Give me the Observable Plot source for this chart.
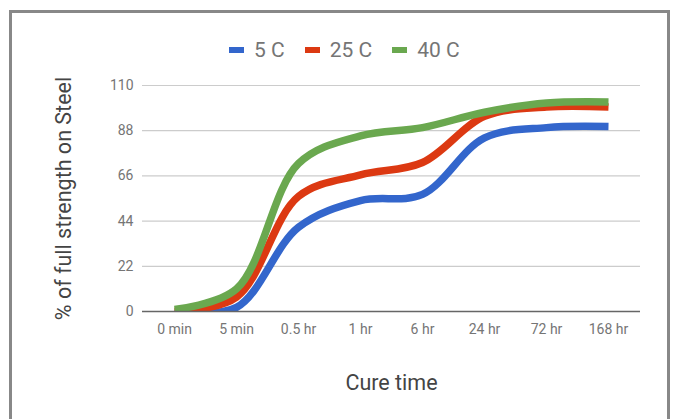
<!DOCTYPE html>
<html>
<head>
<meta charset="utf-8">
<script src="https://cdn.jsdelivr.net/npm/d3@7"></script>
<script src="https://cdn.jsdelivr.net/npm/@observablehq/plot@0.6"></script>
<style>
  html, body { margin: 0; padding: 0; background: #fff; }
  #wrap { position: relative; width: 675px; height: 419px; overflow: hidden; font-family: Roboto, sans-serif; }
  #frame { position: absolute; left: 9px; top: 10px; width: 655px; height: 440px; border: 3px solid #888; box-sizing: content-box; }
  #legend { position: absolute; left: 229px; top: 36px; height: 27px; display: flex; align-items: center; font-size: 21px; color: #757575; white-space: nowrap; }
  .item { display: flex; align-items: center; margin-right: 20px; }
  .sw { width: 15px; height: 6px; margin-right: 10px; }
  #chart { position: absolute; left: 0; top: 0; }
</style>
</head>
<body>
<div id="wrap">
  <div id="frame"></div>
  <div id="chart"></div>
  <div id="legend"></div>
</div>
<script>
const times = ["0 min", "5 min", "0.5 hr", "1 hr", "6 hr", "24 hr", "72 hr", "168 hr"];
const seriesNames = ["5 C", "25 C", "40 C"];
const seriesColors = ["#3366cc", "#dc3912", "#6aa84f"];
const c5  = [0, 2, 41, 54, 57, 84.5, 89.5, 90];
const c25 = [0, 7, 56, 66.5, 72.5, 95, 99.5, 99.5];
const c40 = [1, 11, 72, 85.5, 89.5, 97, 101.5, 102];
const yTicks = [0, 22, 44, 66, 88, 110];

const valuesBySeries = [c5, c25, c40];
const rows = [];
valuesBySeries.forEach((vals, si) => {
  vals.forEach((v, i) => rows.push({series: seriesNames[si], time: times[i], value: v}));
});

// legend
const legend = document.getElementById("legend");
seriesNames.forEach((n, i) => {
  const it = document.createElement("div");
  it.className = "item";
  const sw = document.createElement("div");
  sw.className = "sw";
  sw.style.background = seriesColors[i];
  const tx = document.createElement("span");
  tx.textContent = n;
  it.appendChild(sw);
  it.appendChild(tx);
  legend.appendChild(it);
});

const chart = Plot.plot({
  width: 675,
  height: 419,
  marginLeft: 142,
  marginRight: 35,
  marginTop: 85,
  marginBottom: 108,
  style: {fontFamily: "Roboto, sans-serif", background: "transparent", overflow: "visible"},
  x: {type: "point", domain: times, padding: 0.5},
  y: {domain: [0, 110]},
  color: {domain: seriesNames, range: seriesColors},
  marks: [
    Plot.ruleY(yTicks.filter(d => d > 0), {stroke: "#cccccc", strokeWidth: 1.2}),
    Plot.axisY({ticks: yTicks, tickSize: 0, tickPadding: 9, fontSize: 14, color: "#757575", label: null}),
    Plot.axisX({tickSize: 0, tickPadding: 13, fontSize: 14, color: "#757575", label: null}),
    Plot.lineY(rows, {x: "time", y: "value", z: "series", stroke: "series", strokeWidth: 7.5, curve: "catmull-rom", strokeLinecap: "butt", strokeLinejoin: "round", clip: true}),
    Plot.ruleY([0], {stroke: "#666", strokeWidth: 1.5}),
    Plot.text(["% of full strength on Steel"], {frameAnchor: "left", dx: -78, rotate: -90, textAnchor: "middle", fontSize: 21.5, fill: "#444"}),
    Plot.text(["Cure time"], {frameAnchor: "bottom", dy: 78, textAnchor: "middle", fontSize: 21.5, fill: "#444"})
  ]
});
document.getElementById("chart").appendChild(chart);
</script>
</body>
</html>
